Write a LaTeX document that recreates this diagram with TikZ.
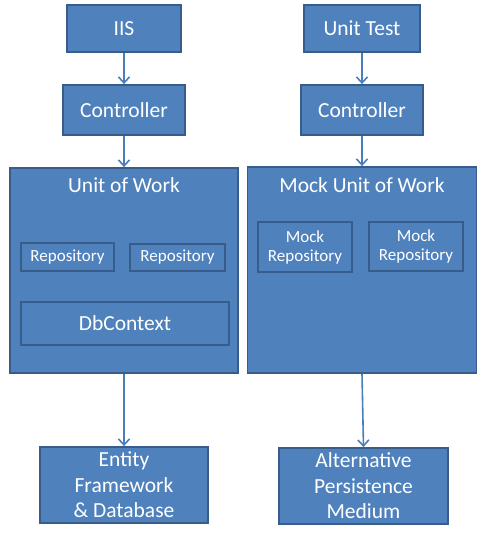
\documentclass[tikz,border=0pt]{standalone}
\usepackage{fontspec}
\setmainfont{Carlito}
\usetikzlibrary{arrows.meta}

\definecolor{boxfill}{HTML}{4F81BD}
\definecolor{boxline}{HTML}{385D8A}
\definecolor{flowcol}{HTML}{4A7EBB}

\tikzset{
    blockbox/.style={draw=boxline, fill=boxfill, line width=1.8pt, text=white,
        inner sep=0pt, align=center, font=\fontsize{21.5}{25.6}\selectfont},
    smallbox/.style={blockbox, font=\fontsize{17}{19}\selectfont},
    boxtitle/.style={text=white, inner sep=0pt, anchor=base, font=\fontsize{21.5}{25.6}\selectfont},
    flow/.style={draw=flowcol, line width=1.6pt, -{Straight Barb[length=6pt,width=11pt]}},
}

\begin{document}
\begin{tikzpicture}[x=1pt, y=-1pt]
            \useasboundingbox (0,0) rectangle (495,536);

            % left stack
            \node[blockbox, minimum width=114, minimum height=47] (iis) at (124, 28.5) {IIS};
            \node[blockbox, minimum width=122, minimum height=50] (ctrlL) at (124, 110) {Controller};
            \node[blockbox, minimum width=228, minimum height=205] (uow) at (124, 270.5) {};
            \node[boxtitle] (uowtitle) at (124, 192) {Unit of Work};
            \node[smallbox, minimum width=93, minimum height=28] (repoA) at (67.5, 257) {Repository};
            \node[smallbox, minimum width=95, minimum height=27] (repoB) at (177.5, 257.5) {Repository};
            \node[blockbox, minimum width=208, minimum height=43] (db) at (125, 323.5) {DbContext};
            \node[blockbox, minimum width=168, minimum height=76] (ef) at (124, 485) {Entity\\Framework\\\& Database};

            % right stack
            \node[blockbox, minimum width=116, minimum height=47] (test) at (362, 28.5) {Unit Test};
            \node[blockbox, minimum width=122, minimum height=50] (ctrlR) at (362, 110) {Controller};
            \node[blockbox, minimum width=229, minimum height=206] (muow) at (362, 270) {};
            \node[boxtitle] (muowtitle) at (362, 192) {Mock Unit of Work};
            \node[smallbox, minimum width=94, minimum height=50] (mrepoA) at (305, 247) {Mock\\Repository};
            \node[smallbox, minimum width=94, minimum height=49] (mrepoB) at (416, 246.5) {Mock\\Repository};
            \node[blockbox, minimum width=169, minimum height=76] (alt) at (363.5, 486) {Alternative\\Persistence\\Medium};

            \draw[flow] (iis) -- (ctrlL);
            \draw[flow] (ctrlL) -- (uow);
            \draw[flow] (uow) -- (ef);
            \draw[flow] (test) -- (ctrlR);
            \draw[flow] (ctrlR) -- (muow);
            \draw[flow] (muow.south) -- (alt.north);
\end{tikzpicture}
\end{document}
